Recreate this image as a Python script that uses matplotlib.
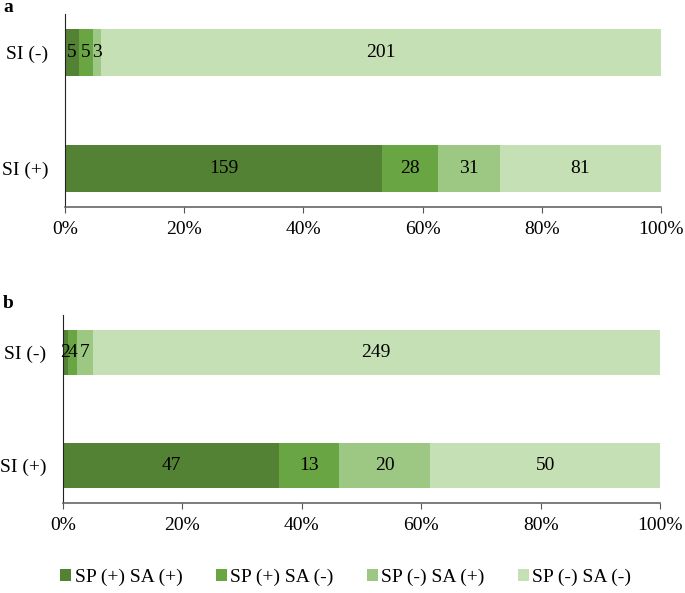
import matplotlib.pyplot as plt
import numpy as np
from matplotlib.patches import Patch

plt.rcParams["font.family"] = ["Liberation Serif", "DejaVu Serif"]

groups = ["SI (+)", "SI (-)"]
series = ["SP (+) SA (+)", "SP (+) SA (-)", "SP (-) SA (+)", "SP (-) SA (-)"]
colors = ["#548235", "#6aa544", "#9cc884", "#c5e0b4"]

# counts per group (rows: SI(+), SI(-)), columns follow series order
counts_a = np.array([[159, 28, 31, 81],
                     [5, 5, 3, 201]])
counts_b = np.array([[47, 13, 20, 50],
                     [2, 4, 7, 249]])

fig = plt.figure(figsize=(6.85, 5.93), dpi=100)
ax_a = fig.add_axes([65 / 685, 1 - 207 / 593, 596 / 685, 193 / 593])
ax_b = fig.add_axes([63 / 685, 1 - 503 / 593, 597 / 685, 188 / 593])

fs = 14
for ax, counts, name in [(ax_a, counts_a, "a"), (ax_b, counts_b, "b")]:
    pct = counts / counts.sum(axis=1, keepdims=True) * 100
    left = np.zeros(len(groups))
    y = np.arange(len(groups))
    for j in range(len(series)):
        ax.barh(y, pct[:, j], left=left, height=0.4, color=colors[j], label=series[j])
        for i in range(len(groups)):
            cx = left[i] + pct[i, j] / 2
            ax.text(cx, y[i], str(counts[i, j]), ha="center", va="center", fontsize=fs)
        left += pct[:, j]
    ax.set_xlim(0, 100)
    ax.set_ylim(-0.33, 1.33)
    ax.set_yticks(y)
    ax.set_yticklabels(groups, fontsize=fs)
    ax.tick_params(axis="y", length=0, pad=12)
    ax.set_xticks(np.arange(0, 101, 20))
    ax.set_xticklabels([f"{v}%" for v in range(0, 101, 20)], fontsize=fs)
    ax.tick_params(axis="x", length=4, color="#555555", pad=6)
    for s in ["top", "right"]:
        ax.spines[s].set_visible(False)
    ax.spines["left"].set_color("#222222")
    ax.spines["bottom"].set_color("#666666")
    ax.spines["bottom"].set_linewidth(1.2)

fig.text(8 / 685, 1 - 7 / 593, "a", fontsize=fs, fontweight="bold", va="center", ha="center")
fig.text(8 / 685, 1 - 303 / 593, "b", fontsize=fs, fontweight="bold", va="center", ha="center")

handles = [Patch(facecolor=c, label=s) for c, s in zip(colors, series)]
fig.legend(handles=handles, loc="center", bbox_to_anchor=(0.505, 1 - 577 / 593), ncol=4,
           frameon=False, fontsize=fs, handlelength=0.55, handleheight=0.55,
           handletextpad=0.2, columnspacing=1.7)

plt.savefig("out.png", dpi=100)
